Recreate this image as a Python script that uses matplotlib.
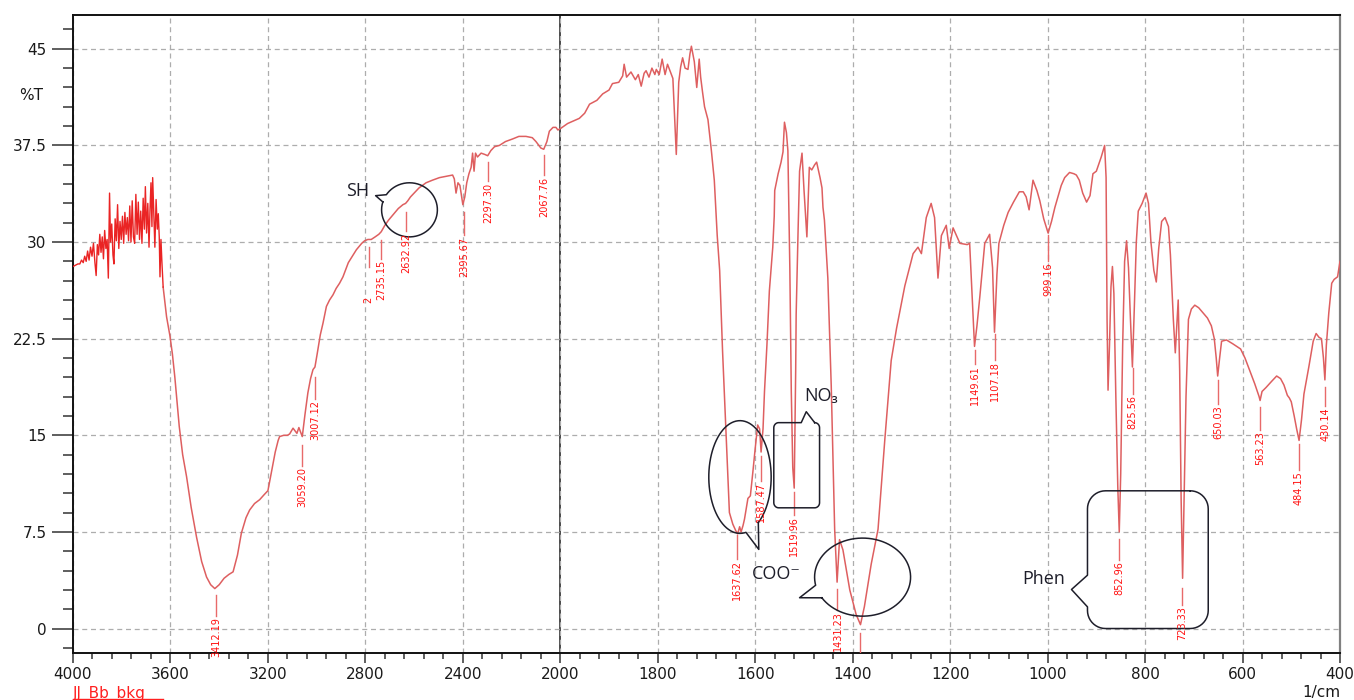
import numpy as np
import matplotlib
matplotlib.use("Agg")
import matplotlib.pyplot as plt
from matplotlib.lines import Line2D

# noisy high-wavenumber end of the scan (1/cm, %T)
noisy_wn = [4000, 3990, 3980, 3972, 3965, 3958, 3952, 3946, 3940, 3934, 3928, 3922,
            3916, 3910, 3905, 3900, 3895, 3890, 3885, 3880, 3875, 3870, 3865, 3860,
            3855, 3850, 3846, 3841, 3836, 3832, 3827, 3822, 3817, 3812, 3807, 3802,
            3797, 3792, 3787, 3782, 3777, 3772, 3767, 3762, 3757, 3752, 3747, 3742,
            3737, 3732, 3727, 3722, 3717, 3712, 3707, 3703, 3698, 3693, 3688, 3684,
            3680, 3676, 3673, 3668, 3664, 3659, 3654, 3650, 3646, 3643, 3639, 3635, 3630]
noisy_t = [28.1, 28.2, 28.3, 28.3, 28.6, 28.4, 28.9, 28.5, 29.3, 28.6, 29.6, 28.9,
           29.9, 28.4, 27.4, 29.8, 29.0, 30.6, 29.2, 30.4, 28.7, 30.9, 29.5, 30.2,
           27.2, 33.8, 30.0, 31.4, 29.0, 28.3, 31.8, 30.1, 32.9, 29.5, 31.6, 30.2,
           32.0, 29.9, 32.3, 30.6, 31.9, 30.1, 32.8, 30.0, 33.2, 30.4, 29.9, 33.7,
           30.6, 33.1, 30.2, 32.4, 29.9, 33.4, 31.0, 34.3, 30.7, 33.0, 29.6, 32.5,
           34.6, 31.2, 35.0, 32.0, 29.6, 33.3, 31.0, 32.2, 30.4, 27.3, 30.2, 28.4, 26.5]

# rest of the spectrum
wn = [3630, 3616, 3602, 3592, 3582, 3575, 3564, 3550, 3534, 3515, 3493, 3472, 3452,
      3435, 3418, 3400, 3380, 3360, 3343, 3325, 3309, 3290, 3275, 3255, 3234, 3215,
      3200, 3185, 3170, 3158, 3152, 3135, 3120, 3111, 3097, 3081, 3073, 3059, 3048,
      3036, 3025, 3015, 3007, 2998, 2985, 2974, 2960, 2947, 2933, 2920, 2906, 2892,
      2870, 2850, 2837, 2815, 2803, 2790, 2776, 2760, 2745, 2735, 2720, 2705, 2687,
      2665, 2646, 2635, 2626, 2615, 2605, 2580, 2551, 2525, 2496, 2470, 2442, 2435,
      2428, 2420, 2412, 2400, 2392, 2384, 2375, 2366, 2360, 2354, 2348, 2340, 2325,
      2310, 2298, 2285, 2270, 2250, 2225, 2196, 2170, 2141, 2115, 2100, 2080, 2068,
      2055, 2045, 2030, 2018, 2010, 2000,
      1985, 1961, 1950, 1940, 1925, 1913, 1900, 1893, 1880, 1872, 1869, 1864, 1855,
      1846, 1840, 1834, 1828, 1824, 1818, 1812, 1806, 1803, 1797, 1791, 1785, 1780,
      1776, 1769, 1762, 1757, 1753, 1749, 1744, 1738, 1734, 1731, 1727, 1725, 1720,
      1715, 1712, 1708, 1704, 1697, 1690, 1684, 1678, 1673, 1667, 1660, 1653, 1646,
      1640, 1636, 1632, 1629, 1625, 1622, 1615, 1610, 1605, 1600, 1595, 1591, 1588,
      1584, 1581, 1576, 1571, 1564, 1561, 1560, 1553, 1547, 1543, 1540, 1536, 1533,
      1529, 1526, 1523, 1520, 1517, 1516, 1512, 1509, 1504, 1500, 1494, 1489, 1484,
      1478, 1474, 1467, 1463, 1461, 1458, 1451, 1444, 1437, 1432, 1427, 1420, 1406,
      1393, 1384, 1376, 1362, 1348, 1334, 1321, 1310, 1293, 1276, 1266, 1259, 1249,
      1239, 1232, 1225, 1218, 1208, 1202, 1194, 1180, 1165, 1160, 1154, 1150, 1145,
      1139, 1129, 1119, 1113, 1109, 1104, 1100, 1090, 1081, 1070, 1064, 1058, 1050,
      1044, 1038, 1030, 1022, 1016, 1008, 999, 992, 985, 972, 965, 955, 946, 941, 935,
      928, 920, 913, 907, 900, 890, 883, 880, 878, 876, 873, 870, 867, 864, 860, 856,
      853, 850, 846, 842, 838, 834, 830, 826, 822, 818, 814, 806, 798, 793, 788, 782,
      777, 772, 766, 759, 752, 748, 742, 738, 735, 732, 729, 726, 723, 720, 716, 711,
      705, 698, 690, 681, 672, 664, 658, 654, 651, 647, 643, 633, 620, 604, 595, 585,
      575, 566, 564, 560, 552, 540, 530, 522, 515, 508, 504, 500, 494, 489, 484, 479,
      474, 464, 455, 449, 443, 438, 434, 431, 428, 423, 417, 412, 405, 400]
t = [26.5, 24.2, 22.7, 21.3, 19.5, 18.0, 15.7, 13.5, 11.8, 9.4, 7.1, 5.2, 4.0,
     3.4, 3.1, 3.4, 3.9, 4.2, 4.4, 5.7, 7.4, 8.6, 9.2, 9.7, 10.0, 10.4,
     10.7, 12.2, 13.7, 14.6, 14.9, 15.0, 15.0, 15.1, 15.55, 15.15, 15.6, 14.9, 16.6,
     18.3, 19.4, 20.1, 20.3, 21.3, 22.8, 23.7, 25.0, 25.5, 25.9, 26.4, 26.8, 27.3,
     28.4, 29.0, 29.4, 29.9, 30.1, 30.2, 30.2, 30.4, 30.6, 30.8, 31.3, 31.7, 32.1,
     32.6, 32.9, 33.0, 33.2, 33.5, 33.7, 34.2, 34.6, 34.8, 35.0, 35.1, 35.2, 34.9,
     33.8, 34.6, 34.4, 32.9, 33.5, 34.6, 35.3, 35.8, 36.9, 35.5, 36.9, 36.6, 36.9,
     36.8, 36.7, 37.1, 37.4, 37.5, 37.8, 38.0, 38.2, 38.2, 38.1, 37.8, 37.3, 37.2,
     37.8, 38.6, 38.9, 38.9, 38.7, 38.8,
     39.2, 39.6, 40.0, 40.7, 41.0, 41.5, 41.8, 42.3, 42.4, 42.9, 43.8, 42.8, 43.2,
     42.6, 43.0, 42.1, 43.1, 43.3, 42.8, 43.5, 43.0, 43.4, 43.0, 44.2, 43.0, 43.8,
     43.4, 42.7, 36.8, 42.4, 43.6, 44.3, 43.5, 43.4, 44.6, 45.2, 44.4, 44.0, 42.0,
     44.2, 42.8, 41.6, 40.5, 39.5, 37.1, 34.8, 30.5, 27.8, 21.5, 15.3, 9.0, 8.1,
     7.6, 7.35, 7.9, 7.5, 8.0, 8.5, 10.1, 10.3, 12.1, 14.0, 15.8, 15.5, 13.7,
     15.5, 18.4, 22.0, 26.2, 29.6, 32.0, 34.0, 35.3, 36.2, 37.0, 39.3, 38.5, 37.1,
     28.0, 18.4, 12.5, 10.9, 20.0, 24.4, 31.0, 35.5, 36.9, 34.1, 30.4, 35.8, 35.6,
     36.0, 36.2, 35.0, 34.2, 32.7, 31.7, 27.2, 18.8, 7.7, 3.6, 6.9, 6.1, 3.0,
     1.1, 0.3, 1.7, 5.0, 7.7, 14.7, 20.8, 23.3, 26.6, 29.1, 29.6, 29.1, 31.9,
     33.0, 31.9, 27.2, 30.5, 31.3, 29.5, 31.1, 29.9, 29.8, 29.9, 25.0, 21.9, 23.5,
     25.8, 29.9, 30.6, 28.0, 23.0, 27.5, 29.9, 31.3, 32.3, 33.1, 33.5, 33.9, 33.9,
     33.5, 32.5, 34.8, 34.0, 33.2, 31.8, 30.7, 31.6, 32.7, 34.4, 35.0, 35.4, 35.3, 35.2, 34.8,
     33.8, 33.1, 33.6, 35.3, 35.5, 36.6, 37.5, 35.0, 24.0, 18.5, 22.0, 26.5, 28.1, 26.0, 18.0, 11.0,
     7.5, 12.0, 22.0, 28.5, 30.1, 28.0, 24.0, 20.3, 25.0, 30.0, 32.4, 33.0, 33.8, 33.0, 30.0, 27.8,
     26.9, 29.5, 31.6, 31.9, 31.2, 29.0, 24.0, 21.4, 23.5, 25.5, 20.0, 10.0, 3.9, 10.0, 18.0, 24.0,
     24.8, 25.1, 24.9, 24.5, 24.1, 23.5, 22.5, 21.0, 19.6, 21.0, 22.3, 22.4, 22.1, 21.7, 21.0, 20.0,
     19.0, 18.0, 17.7, 18.4, 18.7, 19.2, 19.6, 19.4, 18.9, 18.1, 17.9, 17.6, 16.5, 15.5, 14.6, 16.2,
     18.2, 20.3, 22.3, 22.9, 22.6, 22.5, 21.0, 19.3, 22.0, 24.5, 26.8, 27.1, 27.3, 28.5]

# picked peaks
peak_wn = [3412.19, 3059.20, 3007.12, 2787, 2735.15, 2632.92, 2395.67, 2297.30,
           2067.76, 1637.62, 1587.47, 1519.96, 1431.23, 1149.61, 1107.18, 999.16,
           852.96, 825.56, 723.33, 650.03, 563.23, 484.15, 430.14]
peak_text = ["3412.19", "3059.20", "3007.12", "2", "2735.15", "2632.92", "2395.67",
             "2297.30", "2067.76", "1637.62", "1587.47", "1519.96", "1431.23",
             "1149.61", "1107.18", "999.16", "852.96", "825.56", "723.33", "650.03",
             "563.23", "484.15", "430.14"]
# where each marker line starts and where its label begins (%T)
tick_top = [2.6, 14.26, 19.53, 29.63, 30.17, 32.35, 32.35, 36.23, 36.78, 7.25, 13.39,
            10.59, 3.05, 21.62, 22.87, 30.56, 6.94, 20.23, 3.13, 19.3, 17.2, 14.32, 18.75]
text_top = [0.88, 12.55, 17.74, 25.74, 28.62, 30.72, 30.41, 34.6, 35.07, 5.3, 11.37,
            8.73, 1.34, 20.46, 20.77, 28.39, 5.23, 18.13, 1.73, 17.36, 15.34, 12.22, 17.2]
hidden_peak_wn = [1384]

x_major = [4000, 3600, 3200, 2800, 2400, 2000, 1800, 1600, 1400, 1200, 1000, 800, 600, 400]
y_major = [0, 7.5, 15, 22.5, 30, 37.5, 45]

curve_col = "#de5f60"
label_col = "#ff1010"
ink = "#1e1e2a"


def fwd(x):
    x = np.asarray(x, dtype=float)
    return np.where(x > 2000, 2000 + (x - 2000) / 2, x)


def inv(x):
    x = np.asarray(x, dtype=float)
    return np.where(x > 2000, 2000 + (x - 2000) * 2, x)


def ellipse_callout(ax, cx, cy, w, h, gap, tip):
    # angles are screen angles, counter-clockwise from the right-hand side
    a = np.radians(np.linspace(gap[1], gap[0] + 360, 240))
    xs = cx - w / 2 * np.cos(a)
    ys = cy + h / 2 * np.sin(a)
    xs = np.append(xs, [tip[0], xs[0]])
    ys = np.append(ys, [tip[1], ys[0]])
    ax.plot(xs, ys, color=ink, lw=1.1, zorder=4)


def corner(cx, cy, rx, ry, a0, a1):
    a = np.radians(np.linspace(a0, a1, 12))
    return np.column_stack([cx - rx * np.cos(a), cy + ry * np.sin(a)])


def box_corners(left, right, bottom, top, rx, ry):
    tr = corner(right + rx, top - ry, rx, ry, 90, 0)
    br = corner(right + rx, bottom + ry, rx, ry, 0, -90)
    bl = corner(left - rx, bottom + ry, rx, ry, -90, -180)
    tl = corner(left - rx, top - ry, rx, ry, 180, 90)
    return tr, br, bl, tl


fig = plt.figure(figsize=(13.54, 7.0), dpi=100)
ax = fig.add_axes([73 / 1354, 47 / 700, 1267 / 1354, 637.7 / 700])
ax.set_xscale("function", functions=(fwd, inv))
ax.set_xlim(4000, 400)
ax.set_ylim(-1.9, 47.6)

ax.set_xticks(x_major)
ax.set_xticks(np.concatenate([np.arange(3920, 2000, -80), np.arange(1960, 400, -40)]), minor=True)
ax.set_xticklabels([str(v) for v in x_major])
ax.set_yticks(y_major)
ax.set_yticks(np.arange(-1.5, 47.0, 1.5), minor=True)
ax.set_yticklabels(["%g" % v for v in y_major])

ax.tick_params(axis="both", which="both", direction="out", colors="#333333",
               labelcolor="#1a1a1a", labelsize=11)
ax.tick_params(axis="x", which="major", length=7, width=1.1, pad=3)
ax.tick_params(axis="x", which="minor", length=4.5, width=1.1)
ax.tick_params(axis="y", which="major", length=15, width=1.1, pad=4)
ax.tick_params(axis="y", which="minor", length=7, width=1.1)

ax.grid(True, which="major", color="#adadad", lw=0.9, linestyle=(0, (4, 3)))
for side in ["left", "bottom", "top"]:
    ax.spines[side].set_color("#111111")
    ax.spines[side].set_linewidth(1.4)
ax.spines["right"].set_color("#808080")
ax.spines["right"].set_linewidth(1.6)
ax.axvline(2000, color="#4a4a4a", lw=1.4, zorder=1)

ax.plot(wn, t, color=curve_col, lw=1.1, zorder=3)
ax.plot(noisy_wn, noisy_t, color="#ea2424", lw=1.0, zorder=3)

# peak markers and labels
for x, txt, y0, y1 in zip(peak_wn, peak_text, tick_top, text_top):
    line_end = y1 + 0.1 if txt != "2" else y0 - 1.6
    ax.plot([x, x], [y0, line_end], color="#e86a6a", lw=1.0, zorder=3)
    ax.text(x, y1, txt, rotation=90, ha="center", va="top", fontsize=7,
            color=label_col, family=["Liberation Sans Narrow", "DejaVu Sans"], zorder=5)
for x in hidden_peak_wn:
    ax.plot([x, x], [-0.37, -3], color="#e86a6a", lw=1.0, zorder=3)

# callouts
ellipse_callout(ax, 2619, 32.5, 229, 4.2, (146, 163), (2758, 33.6))
ellipse_callout(ax, 1631.3, 11.76, 128, 8.75, (281, 306), (1592.7, 6.14))
ellipse_callout(ax, 1379.7, 3.99, 197, 6.06, (192, 212), (1509, 2.39))

tr, br, bl, tl = box_corners(1561.9, 1468, 9.37, 15.98, 10, 0.4)
no3 = np.vstack([tr, br, bl, tl, [[1505.6, 15.98], [1495.3, 16.83], tr[0]]])
ax.plot(no3[:, 0], no3[:, 1], color=ink, lw=1.1, zorder=4)

tr, br, bl, tl = box_corners(918.2, 670.4, 0.0, 10.69, 37, 1.4)
phen = np.vstack([tr, br, bl, [[918.2, 1.68], [951, 3.03], [918.2, 4.14]], tl, tr[:1]])
ax.plot(phen[:, 0], phen[:, 1], color=ink, lw=1.1, zorder=4)

note_font = dict(fontsize=13, color=ink, family=["Open Sans", "DejaVu Sans"],
                 ha="center", va="center", zorder=5)
ax.text(2832, 34.0, "SH", **note_font)
ax.text(1464, 18.05, "NO₃", **note_font)
ax.text(1556, 4.24, "COO⁻", **note_font)
ax.text(1009, 3.83, "Phen", **note_font)

# frame texts
fig.text(31 / 1354, 1 - 95 / 700, "%T", fontsize=11, color="#1a1a1a", ha="center", va="center")
fig.text(1340 / 1354, 1 - 692 / 700, "1/cm", fontsize=11, color="#1a1a1a", ha="right", va="center")
fig.text(73 / 1354, 1 - 686 / 700, "JJ_Bb_bkg", fontsize=11, color="#ff2020", ha="left", va="top")
fig.add_artist(Line2D([73 / 1354, 163 / 1354], [1 - 699 / 700, 1 - 699 / 700],
                      color="#ff2020", lw=1.0))

fig.savefig("out.png", dpi=100)
